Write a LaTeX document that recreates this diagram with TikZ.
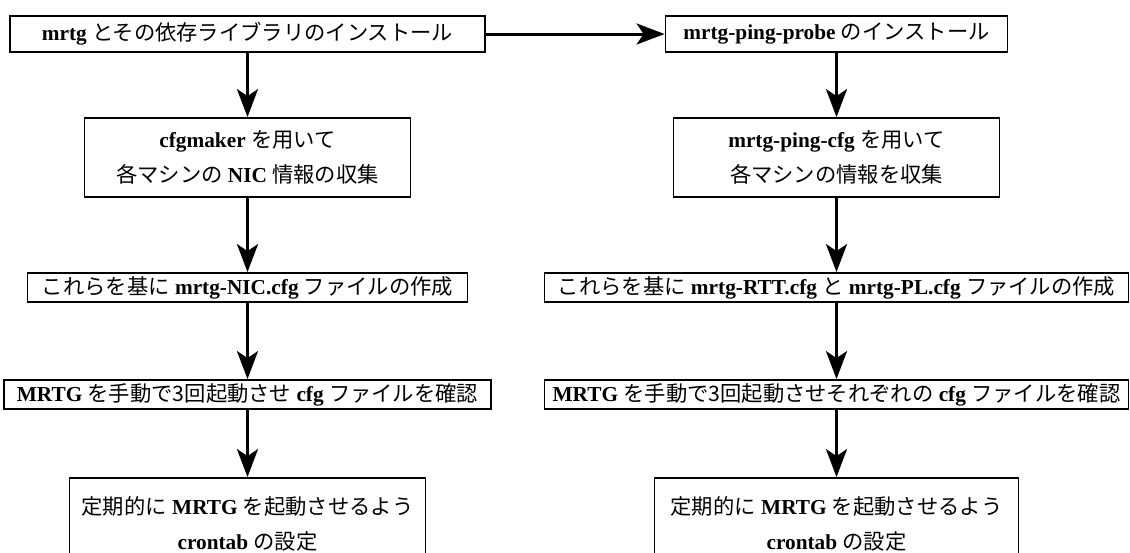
\documentclass[tikz,border=0pt]{standalone}
\usepackage{fontspec}
\setmainfont{Liberation Serif}
\newfontfamily\jpf{Noto Sans CJK JP}
\usetikzlibrary{arrows.meta}
\newcommand\J[1]{{\jpf\mdseries #1}}
\begin{document}
\begin{tikzpicture}[x=1pt,y=-1pt,
  box/.style={draw=black, line width=1.8pt, fill=white, inner sep=2pt,
    font=\fontsize{21.3}{35}\selectfont\bfseries, align=center, text=black},
  arr/.style={line width=3pt, -{Stealth[length=28pt,width=21pt,inset=7pt]}}]
\useasboundingbox (0,0) rectangle (1130,552);
\clip (0,0) rectangle (1130,552);
\fill[white] (0,0) rectangle (1130,552);
% left column
\node[box, minimum width=475pt, minimum height=36pt] (l1) at (247.5,34)
  {mrtg \J{とその依存ライブラリのインストール}};
\node[box, minimum width=326pt, minimum height=79pt] (l2) at (247.5,157.5)
  {cfgmaker \J{を用いて}\\\J{各マシンの} NIC \J{情報の収集}};
\node[box, minimum width=440pt, minimum height=29pt] (l3) at (247.5,287.5)
  {\J{これらを基に} mrtg-NIC.cfg \J{ファイルの作成}};
\node[box, minimum width=487pt, minimum height=29pt] (l4) at (247.5,394.5)
  {MRTG \J{を手動で3回起動させ} cfg \J{ファイルを確認}};
\node[box, minimum width=356pt, minimum height=92pt] (l5) at (247.5,524)
  {\J{定期的に} MRTG \J{を起動させるよう}\\crontab \J{の設定}};
% right column
\node[box, minimum width=342pt, minimum height=36pt] (r1) at (836.5,34)
  {mrtg-ping-probe \J{のインストール}};
\node[box, minimum width=326pt, minimum height=79pt] (r2) at (836.5,157.5)
  {mrtg-ping-cfg \J{を用いて}\\\J{各マシンの情報を収集}};
\node[box, minimum width=584pt, minimum height=29pt] (r3) at (836.5,287.5)
  {\J{これらを基に} mrtg-RTT.cfg \J{と} mrtg-PL.cfg \J{ファイルの作成}};
\node[box, minimum width=584pt, minimum height=29pt] (r4) at (836.5,394.5)
  {MRTG \J{を手動で3回起動させそれぞれの} cfg \J{ファイルを確認}};
\node[box, minimum width=364pt, minimum height=92pt] (r5) at (836.5,524)
  {\J{定期的に} MRTG \J{を起動させるよう}\\crontab \J{の設定}};
% arrows
\draw[arr] (l1) -- (r1);
\draw[arr] (l1) -- (l2);
\draw[arr] (l2) -- (l3);
\draw[arr] (l3) -- (l4);
\draw[arr] (l4) -- (l5);
\draw[arr] (r1) -- (r2);
\draw[arr] (r2) -- (r3);
\draw[arr] (r3) -- (r4);
\draw[arr] (r4) -- (r5);
\end{tikzpicture}
\end{document}
